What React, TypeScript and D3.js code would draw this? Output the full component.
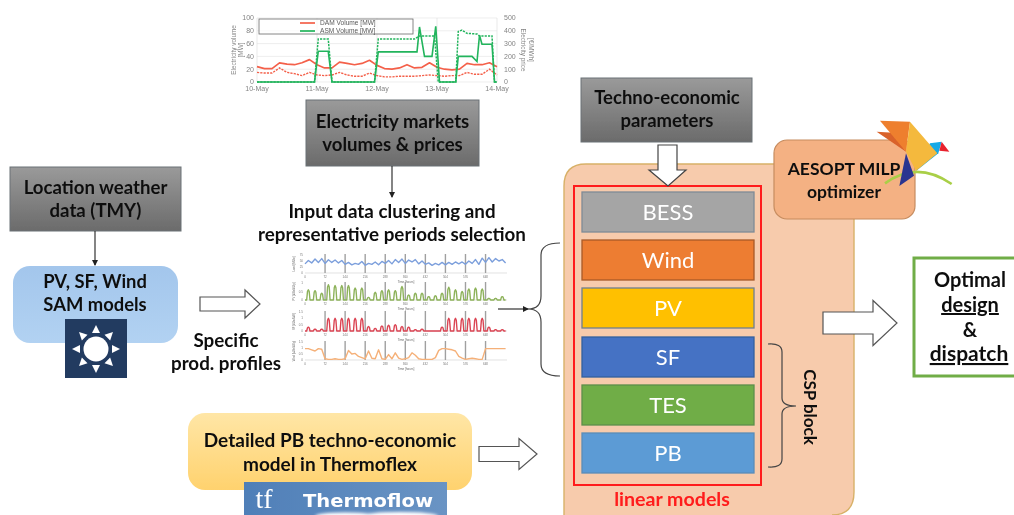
import React from "react";
import * as d3 from "d3";

// ---------- top market chart data (hour offset, value) ----------
const marketDays = ["10-May", "11-May", "12-May", "13-May", "14-May"];
const volumeTicks = [0, 20, 40, 60, 80, 100];
const priceTicks = [0, 100, 200, 300, 400, 500];
const damHours = [0,3,6,9,12,15,18,21,24,27,30,33,36,39,42,45,48,51,54,57,60,63,66,69,72,75,78,81,84,87,90,93,96];
const damSolid = [24,21,21,30,28,27,30,35,27,22,22,31,29,27,29,34,26,21,20,22,27,22,23,30,23,20,19,20,29,27,27,30,24];
const damDashed = [15,14,14,22,15,13,10,15,11,10,11,15,11,9,9,14,10,8,8,9,9,9,10,11,10,9,10,10,15,12,12,20,11];
const asmSolidHours = [0,23,24.5,28.5,30,47,48.5,64,65,67,70,71.5,73,79.5,80.5,86,88,89,90,94,95,96];
const asmSolid = [0,0,48,48,0,0,47,47,86,40,40,87,0,0,40,40,32,73,59,59,0,0];
const asmDashedHours = [0,23,24.5,28.5,30,47,48.5,63,65,71,72.5,79.5,80.5,82,84,88,89,94,95,96];
const asmDashed = [0,0,67,67,0,0,67,67,72,72,0,0,79,81,76,75,72,72,0,0];

// ---------- clustered profile panels ----------
const profileTicks = [0,72,144,216,288,360,432,504,576,648];
const loadSeries = [38,52,42,58,44,60, 40,55,44,54,42,52, 36,44,34,40,36,48, 32,40,36,46,34,48, 40,52,38,56,44,58, 40,54,46,56,38,50, 36,42,32,40,34,44, 34,44,36,46,38,46, 36,50,40,56,36,62, 44,64,46,60,50,56, 42];
const windSeries = [.95,.95,.85,.75,.95,.9, .1,.05,.05,.1,.05,.05, .1,.8,.5,.55,.3,.2, .1,.75,.15,.1,.85,.1, .05,.45,.1,.6,.15,.05, .1,.2,.6,.4,.1,.05, .05,.05,.05,.2,.8,.95, .95,.9,.85,.75,.3,.15, .05,.1,.15,.1,.05,.05, .95,.95,.95,.95,.95,.95,.95];
const pvDailyPeak = [.6,.55,.4, .9,.85,.85, .85,.7,.7, .15,.45,.55, .6,.55,.8, .3,.4,.4, .2,.25,.4, .75,.6,.5, .65,.7,.65, .1,.1,.2];
const sfDailyPeak = [.3,.15,.15, 1,1,1, 1,1,1, .35,.2,.4, .45,.5,.35, .3,.1,.15, 0,0,.3, 1,1,1, 1,1,1, .3,.1,.1];

// ---------- diagram text ----------
const modelBlocks = [
  { label: "BESS", fill: "#A5A5A5", stroke: "#7F8A96", top: 192 },
  { label: "Wind", fill: "#ED7D31", stroke: "#A85A28", top: 240 },
  { label: "PV", fill: "#FFC000", stroke: "#6F7F8F", top: 288 },
  { label: "SF", fill: "#4472C4", stroke: "#35609F", top: 337 },
  { label: "TES", fill: "#70AD47", stroke: "#5C8F4A", top: 385 },
  { label: "PB", fill: "#5B9BD5", stroke: "#5B8DB8", top: 433 },
];

const FONT = "Lato, Carlito, 'Open Sans', sans-serif";

function Txt({ x, y, size = 17, weight = 700, fill = "#111", anchor = "middle", children, len, transform, deco }: any) {
  return (
    <text x={x} y={y} fontSize={size} fontWeight={weight} fill={fill} textAnchor={anchor} fontFamily={FONT}
      textLength={len} lengthAdjust={len ? "spacingAndGlyphs" : undefined} transform={transform} textDecoration={deco}>
      {children}
    </text>
  );
}

function BlockArrowRight({ x0, x1, headX, cy, shaft, head }: any) {
  const s = shaft / 2, h = head / 2;
  const d = d3.line()([[x0, cy - s], [headX, cy - s], [headX, cy - h], [x1, cy], [headX, cy + h], [headX, cy + s], [x0, cy + s]] as any) + "Z";
  return <path d={d} fill="#fff" stroke="#555" strokeWidth={1.2} />;
}

function GrayBox({ x, y, w, h, lines, sizes }: any) {
  return (
    <g>
      <rect x={x} y={y} width={w} height={h} fill="url(#grayGrad)" stroke="#6a7076" strokeWidth={1} />
      {lines.map((t: string, i: number) => (
        <Txt key={t} x={x + w / 2} y={y + h / 2 - 5 + i * 23} size={sizes}>{t}</Txt>
      ))}
    </g>
  );
}

function ArrowThin({ x1, y1, x2, y2 }: any) {
  return <line x1={x1} y1={y1} x2={x2} y2={y2} stroke="#222" strokeWidth={1.1} markerEnd="url(#tipHead)" />;
}

function MarketChart() {
  const x = d3.scaleLinear().domain([0, 96]).range([257, 497]);
  const yV = d3.scaleLinear().domain([0, 100]).range([82, 18]);
  const yP = d3.scaleLinear().domain([0, 500]).range([82, 18]);
  const path = (hrs: number[], vals: number[]) =>
    d3.line<number>().x((_, i) => x(hrs[i])).y((d) => yV(d))(vals) as string;
  const red = "#F4604A", green = "#22B45C", gr = "#848484";
  return (
    <g filter="url(#blurChart)">
      {volumeTicks.map((t) => <line key={t} x1={x(0)} x2={x(96)} y1={yV(t)} y2={yV(t)} stroke="#e6e6e6" strokeWidth={0.7} />)}
      {marketDays.map((_, i) => <line key={i} x1={x(i * 24)} x2={x(i * 24)} y1={yV(0)} y2={yV(100)} stroke="#e0e0e0" strokeWidth={0.7} />)}
      <path d={path(damHours, damSolid)} fill="none" stroke={red} strokeWidth={1.7} strokeLinejoin="round" />
      <path d={path(damHours, damDashed)} fill="none" stroke={red} strokeWidth={1.4} strokeDasharray="2.2 1.1" />
      <path d={path(asmSolidHours, asmSolid)} fill="none" stroke={green} strokeWidth={1.6} />
      <path d={path(asmDashedHours, asmDashed)} fill="none" stroke={green} strokeWidth={1.5} strokeDasharray="2.2 1.1" />
      <rect x={259} y={19} width={154} height={15} fill="#fff" fillOpacity={0.75} stroke="#6a6a6a" strokeWidth={0.8} />
      <line x1={300} x2={315} y1={23} y2={23} stroke={red} strokeWidth={1.7} />
      <line x1={300} x2={315} y1={31} y2={31} stroke={green} strokeWidth={1.7} />
      <text x={320} y={25.2} fontSize={6.6} fill="#5a5a5a" fontFamily="Liberation Sans">DAM Volume [MW]</text>
      <text x={320} y={33.2} fontSize={6.6} fill="#5a5a5a" fontFamily="Liberation Sans">ASM Volume [MW]</text>
      {volumeTicks.map((t) => <text key={t} x={254} y={yV(t) + 2.4} fontSize={7} fill={gr} textAnchor="end" fontFamily="Liberation Sans">{t}</text>)}
      {priceTicks.map((t) => <text key={t} x={504} y={yP(t) + 2.4} fontSize={7} fill={gr} fontFamily="Liberation Sans">{t}</text>)}
      {marketDays.map((d, i) => <text key={d} x={x(i * 24)} y={91} fontSize={7} fill={gr} textAnchor="middle" fontFamily="Liberation Sans">{d}</text>)}
      <text transform="translate(236,50) rotate(-90)" fontSize={6.4} fill={gr} textAnchor="middle" fontFamily="Liberation Sans">Electricity volume</text>
      <text transform="translate(243,50) rotate(-90)" fontSize={6.4} fill={gr} textAnchor="middle" fontFamily="Liberation Sans">[MW]</text>
      <text transform="translate(521,50) rotate(90)" fontSize={6.4} fill={gr} textAnchor="middle" fontFamily="Liberation Sans">Electricity price</text>
      <text transform="translate(528,50) rotate(90) translate(0,-1)" fontSize={6.4} fill={gr} textAnchor="middle" fontFamily="Liberation Sans">[€/MWh]</text>
    </g>
  );
}

function dailyToPoints(peaks: number[]) {
  const pts: [number, number][] = [[0, 0]];
  peaks.forEach((p, k) => {
    const h = 24 * k;
    pts.push([h + 6, 0], [h + 9, p * 0.85], [h + 12, p], [h + 15, p * 0.85], [h + 18, 0]);
  });
  pts.push([720, 0]);
  return pts;
}

function Panel({ top, base, maxV, ticks, title, color, points, width = 1.4 }: any) {
  const x = d3.scaleLinear().domain([0, 725]).range([305, 507]);
  const y = d3.scaleLinear().domain([0, maxV]).range([base, top]);
  const d = d3.line<[number, number]>().x((p) => x(p[0])).y((p) => y(p[1]))(points) as string;
  return (
    <g>
      <line x1={305} x2={507} y1={base} y2={base} stroke="#d5d5d5" strokeWidth={0.7} />
      {profileTicks.slice(1).map((t) => <line key={t} x1={x(t)} x2={x(t)} y1={base} y2={top - 1} stroke="#a0a0a0" strokeWidth={1.4} />)}
      <path d={d} fill="none" stroke={color} strokeWidth={width} strokeLinejoin="round" />
      {profileTicks.map((t) => <text key={t} x={x(t)} y={base + 4.5} fontSize={3} fill="#777" textAnchor="middle" fontFamily="Liberation Sans">{t}</text>)}
      {ticks.map((t: number) => <text key={t} x={303} y={y(t) + 1} fontSize={3} fill="#777" textAnchor="end" fontFamily="Liberation Sans">{t}</text>)}
      <text x={406} y={base + 9.5} fontSize={3} fill="#666" textAnchor="middle" fontFamily="Liberation Sans">Time [hours]</text>
      <text transform={`translate(295,${(top + base) / 2}) rotate(-90)`} fontSize={2.8} fill="#666" textAnchor="middle" fontFamily="Liberation Sans">{title}</text>
    </g>
  );
}

function Bird() {
  const P = (zx: number, zy: number) => `${760 + zx / 3},${110 + zy / 3}`;
  const poly = (pts: number[][], fill: string) => <polygon points={pts.map((p) => P(p[0], p[1])).join(" ")} fill={fill} />;
  return (
    <g>
      <path d={`M${P(375, 220)} Q${P(470, 150)} ${P(575, 222)}`.replace(/,/g, " ")} fill="none" stroke="#A9CF46" strokeWidth={2.6} />
      {poly([[350, 65], [400, 68], [438, 125]], "#D9622B")}
      {poly([[360, 32], [450, 35], [438, 125]], "#EE7F2E")}
      {poly([[510, 100], [545, 95], [535, 130], [468, 183]], "#12A9E6")}
      {poly([[545, 95], [568, 125], [538, 122]], "#E8202E")}
      {poly([[450, 35], [532, 130], [468, 183], [438, 125]], "#F4B93C")}
      {poly([[438, 130], [462, 197], [418, 228]], "#2A3490")}
    </g>
  );
}

function Brace({ d }: any) {
  return <path d={d} fill="none" stroke="#444" strokeWidth={1.2} />;
}

export default function App() {
  const sunAngles = d3.range(8).map((i) => (i * Math.PI) / 4);
  return (
    <svg width={1014} height={515} viewBox="0 0 1014 515" style={{ position: "absolute", left: 0, top: 0, background: "#fff" }}>
      <defs>
        <linearGradient id="grayGrad" x1="0" y1="0" x2="0" y2="1">
          <stop offset="0" stopColor="#9A9A9A" />
          <stop offset="1" stopColor="#6B6B6B" />
        </linearGradient>
        <linearGradient id="blueGrad" x1="0" y1="0" x2="0" y2="1">
          <stop offset="0" stopColor="#A3C6EC" />
          <stop offset="1" stopColor="#B2D2F2" />
        </linearGradient>
        <linearGradient id="yellowGrad" x1="0" y1="0" x2="0" y2="1">
          <stop offset="0" stopColor="#FFE6A6" />
          <stop offset="1" stopColor="#FFD26E" />
        </linearGradient>
        <linearGradient id="tfGrad" x1="0" y1="0" x2="1" y2="0">
          <stop offset="0" stopColor="#4F7FB8" />
          <stop offset="1" stopColor="#6A94C4" />
        </linearGradient>
        <marker id="tipHead" markerWidth="7" markerHeight="7" refX="5" refY="3" orient="auto" markerUnits="userSpaceOnUse">
          <path d="M0,0 L6,3 L0,6 Z" fill="#222" />
        </marker>
        <filter id="blurAll" x="-2%" y="-2%" width="104%" height="104%"><feGaussianBlur stdDeviation="0.45" /></filter>
        <filter id="blurChart" x="-5%" y="-5%" width="110%" height="110%"><feGaussianBlur stdDeviation="0.55" /></filter>
        <filter id="blurCloud" x="-20%" y="-50%" width="140%" height="200%"><feGaussianBlur stdDeviation="1.5" /></filter>
      </defs>
      <g filter="url(#blurAll)">
        <MarketChart />

        <GrayBox x={306} y={100} w={173} h={66} lines={["Electricity markets", "volumes & prices"]} sizes={18.6} />
        <ArrowThin x1={392} y1={166} x2={392} y2={197} />
        <Txt x={392} y={218} size={18.8}>Input data clustering and</Txt>
        <Txt x={392} y={241} size={18.8}>representative periods selection</Txt>

        <GrayBox x={10} y={167} w={171} h={64} lines={["Location weather", "data (TMY)"]} sizes={18.6} />
        <ArrowThin x1={95} y1={231} x2={95} y2={265} />
        <rect x={13} y={266} width={165} height={77} rx={17} fill="url(#blueGrad)" />
        <Txt x={95} y={288} size={18.4}>PV, SF, Wind</Txt>
        <Txt x={95} y={311} size={18.4}>SAM models</Txt>
        <rect x={65} y={319} width={62} height={59} fill="#223A60" />
        <circle cx={96} cy={349} r={12.5} fill="#fff" />
        {sunAngles.map((a, i) => {
          const c = Math.cos(a), s = Math.sin(a);
          const pts = [[96 + 24 * c, 349 + 24 * s], [96 + 16 * c - 4 * s, 349 + 16 * s + 4 * c], [96 + 16 * c + 4 * s, 349 + 16 * s - 4 * c]];
          return <polygon key={i} points={pts.map((p) => p.join(",")).join(" ")} fill="#fff" />;
        })}

        <BlockArrowRight x0={200} x1={260} headX={245} cy={304} shaft={14} head={28} />
        <Txt x={226} y={347} size={18.8}>Specific</Txt>
        <Txt x={226} y={370} size={18.8}>prod. profiles</Txt>

        <g filter="url(#blurChart)">
          <Panel top={255} base={273} maxV={75} ticks={[0, 25, 50, 75]} title="Load [MWe]" color="#7C9FDC"
            points={loadSeries.map((v, i) => [i * 12, v])} />
          <Panel top={283} base={300} maxV={1} ticks={[0, 0.5, 1]} title="PV [kWe/kWp]" color="#8DB25A" points={dailyToPoints(pvDailyPeak)} />
          <Panel top={312} base={331} maxV={1.5} ticks={[0, 0.5, 1, 1.5]} title="SF [kWe/kWt]" color="#DB4453" points={dailyToPoints(sfDailyPeak)} />
          <Panel top={342} base={360} maxV={1.5} ticks={[0, 0.5, 1, 1.5]} title="Wind [kWe/kWp]" color="#F5B078"
            points={windSeries.map((v, i) => [i * 12, v])} />
        </g>

        <ArrowThin x1={498} y1={309} x2={528} y2={309} />
        <Brace d="M560,243 Q541,243 541,255 L541,296 Q541,309 528,309 Q541,309 541,322 L541,364 Q541,376 560,376" />

        <rect x={188} y={413} width={284} height={77} rx={17} fill="url(#yellowGrad)" />
        <Txt x={330} y={447} size={19}>Detailed PB techno-economic</Txt>
        <Txt x={330} y={471} size={19}>model in Thermoflex</Txt>
        <rect x={244} y={482} width={203} height={33} fill="url(#tfGrad)" />
        <g filter="url(#blurCloud)">
          <ellipse cx={345} cy={516} rx={30} ry={3.5} fill="#fff" />
          <ellipse cx={400} cy={516} rx={38} ry={4} fill="#fff" />
        </g>
        <text x={264} y={508} fontSize={28} fill="#fff" fontFamily="Liberation Serif" textAnchor="middle">tf</text>
        <text x={303} y={507} fontSize={17.5} fontWeight={700} fill="#fff" fontFamily="DejaVu Sans" textLength={130} lengthAdjust="spacingAndGlyphs">Thermoflow</text>
        <BlockArrowRight x0={479} x1={537} headX={519} cy={454} shaft={15} head={31} />

        <path d="M564,515 L564,186 Q564,164 586,164 L832,164 Q854,164 854,186 L854,492 Q854,515 832,515" fill="#F7CBAC" stroke="#D8B168" strokeWidth={1.4} />
        <rect x={574} y={186} width={187} height={299} fill="none" stroke="#FF1A1A" strokeWidth={2} />
        {modelBlocks.map((b) => (
          <g key={b.label}>
            <rect x={582} y={b.top} width={172} height={40} fill={b.fill} stroke={b.stroke} strokeWidth={1.3} />
            <Txt x={668} y={b.top + 28} size={22} weight={400} fill="#fff">{b.label}</Txt>
          </g>
        ))}
        <Txt x={672} y={506} size={19.6} fill="#FF1A1A">linear models</Txt>
        <Brace d="M768,344 Q782,343 782,352 L782,398 Q782,406 796,406 Q782,406 782,414 L782,459 Q782,468 768,467" />
        <Txt x={0} y={0} size={17} transform="translate(804,407) rotate(90)">CSP block</Txt>

        <rect x={581} y={78} width={171} height={64} fill="url(#grayGrad)" stroke="#6a7076" strokeWidth={1} />
        <Txt x={667} y={104} size={18.5}>Techno-economic</Txt>
        <Txt x={667} y={127} size={18.5}>parameters</Txt>
        <path d={d3.line()([[658, 145], [677, 145], [677, 170], [686, 170], [668, 186], [649, 170], [658, 170]] as any) + "Z"} fill="#fff" stroke="#444" strokeWidth={1.2} />

        <rect x={774} y={140} width={141} height={79} rx={13} fill="#F4B183" stroke="#C68C5F" strokeWidth={1.2} />
        <Txt x={844} y={175} size={17.5}>AESOPT MILP</Txt>
        <Txt x={844} y={198} size={17.5}>optimizer</Txt>
        <Bird />

        <BlockArrowRight x0={823} x1={897} headX={873} cy={323} shaft={22} head={45} />
        <rect x={914} y={258} width={120} height={118} fill="#fff" stroke="#70AD47" strokeWidth={3} />
        <Txt x={970} y={287} size={20}>Optimal</Txt>
        <Txt x={970} y={312} size={20} deco="underline">design</Txt>
        <Txt x={970} y={337} size={20}>&amp;</Txt>
        <Txt x={969} y={361} size={21} deco="underline">dispatch</Txt>
      </g>
    </svg>
  );
}
